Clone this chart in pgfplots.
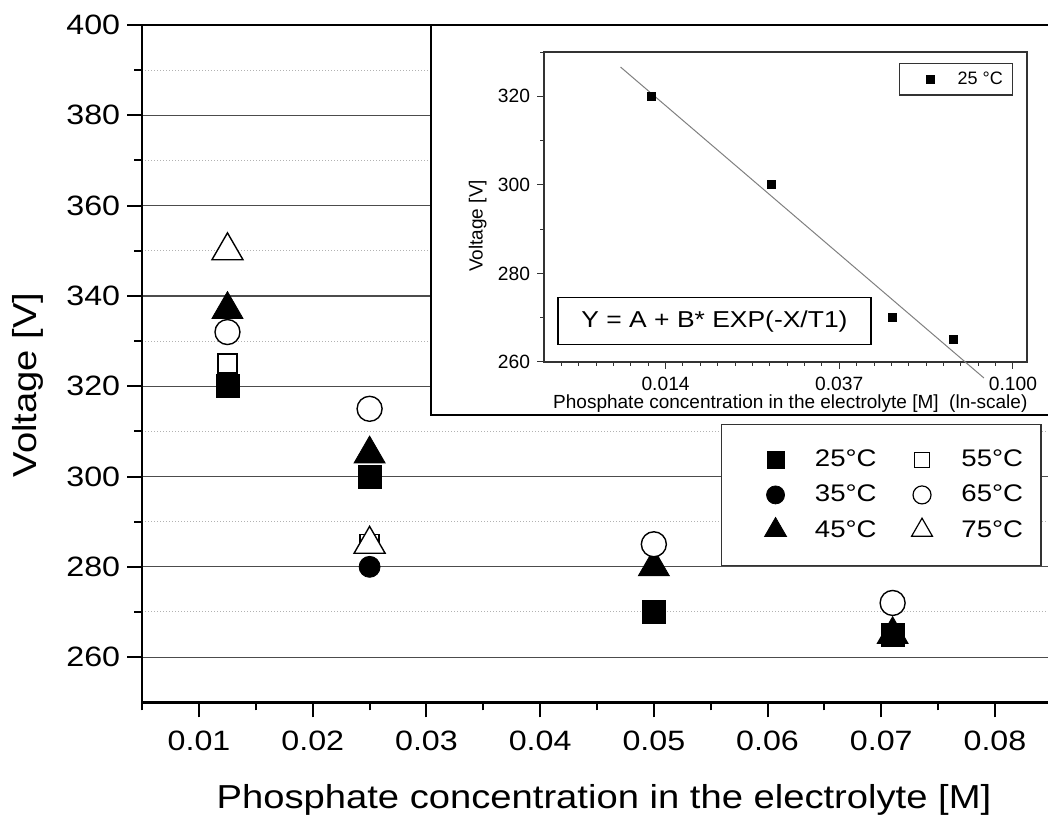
\documentclass[border=0pt]{standalone}
\usepackage{fontspec}
\setmainfont{Liberation Sans}[FakeStretch=1.15]
\newfontfamily\insetfont{Liberation Sans}
\usepackage{pgfplots}
\pgfplotsset{compat=1.18}
\begin{document}
\begin{tikzpicture}
\path[use as bounding box] (0pt,0pt) rectangle (524pt,409.5pt);
% ---------------- main axis ----------------
\begin{axis}[
  at={(71.1pt,58.35pt)}, anchor=south west,
  scale only axis, width=454.8pt, height=338.65pt,
  xmin=0.005, xmax=0.085, ymin=250, ymax=400,
  scaled x ticks=false, scaled y ticks=false,
  axis line style={black, line width=1.2pt},
  tick pos=left, tick align=outside,
  major tick length=7.5pt, minor tick length=4pt,
  every tick/.style={black, line width=1pt},
  xtick={0.01,0.02,0.03,0.04,0.05,0.06,0.07,0.08},
  xticklabels={0.01,0.02,0.03,0.04,0.05,0.06,0.07,0.08},
  minor xtick={0.005,0.015,0.025,0.035,0.045,0.055,0.065,0.075,0.085},
  ytick={260,280,300,320,340,360,380,400},
  yticklabels={260,280,300,320,340,360,380,400},
  minor ytick={270,290,310,330,350,370,390},
  ymajorgrids, yminorgrids,
  major grid style={line width=0.6pt, black!70},
  minor grid style={line width=0.5pt, black!30, densely dotted},
  /pgf/number format/assume math mode=true,
  tick label style={font=\fontsize{14}{16}\selectfont},
  xticklabel style={yshift=-3.5pt},
  xlabel={Phosphate concentration in the electrolyte [M]},
  ylabel={Voltage [V]},
  label style={font=\fontsize{16.6}{20}\selectfont},
  xlabel style={at={(axis description cs:0.5077,-0.1448)}, anchor=center},
  ylabel style={at={(axis description cs:-0.1251,0.4685)}, anchor=center},
  legend columns=2,
  legend image code/.code={\path[draw=none,fill=none] (-20pt,0pt) -- (8.5pt,0pt); \draw[#1,/tikz/only marks] plot coordinates {(0pt,0pt)};},
  legend style={at={(axis description cs:0.989,0.201)}, anchor=south east,
    draw=black!80, line width=0.7pt, fill=white,
    font=\fontsize{12}{14}\selectfont,
    inner xsep=7pt, inner ysep=10.7pt, row sep=3.75pt,
    /tikz/every odd column/.append style={column sep=9.2pt},
    /tikz/every even column/.append style={column sep=0.7pt}},
]
% 25 C
\addplot[only marks, black, mark=square*, mark size=5.75pt, forget plot]
  coordinates {(0.0125,320) (0.025,300) (0.05,270) (0.071,265)};
% 35 C
\addplot[only marks, black, mark=*, mark size=5.25pt, forget plot]
  coordinates {(0.025,280)};
% 45 C
\addplot[only marks, black, mark=triangle*, mark size=8.95pt, forget plot]
  coordinates {(0.0125,337) (0.025,305) (0.05,280) (0.071,265)};
% 55 C
\addplot[only marks, black, mark=square*, mark size=4.75pt, mark options={fill=white, line width=0.7pt}, forget plot]
  coordinates {(0.0125,325) (0.025,285)};
% 65 C
\addplot[only marks, black, mark=*, mark size=6.25pt, mark options={fill=white, line width=0.7pt}, forget plot]
  coordinates {(0.0125,332) (0.025,315) (0.05,285) (0.071,272)};
% 75 C
\addplot[only marks, black, mark=triangle*, mark size=8.95pt, mark options={fill=white, line width=0.7pt}, forget plot]
  coordinates {(0.0125,350) (0.025,285)};
% legend
\addlegendimage{only marks, black, mark=square*, mark size=4.25pt, mark options={line width=0.4pt}}
\addlegendentry{25°C}
\addlegendimage{only marks, black, mark=square*, mark size=3.75pt, mark options={fill=white, line width=0.6pt}}
\addlegendentry{55°C}
\addlegendimage{only marks, black, mark=*, mark size=4.5pt, mark options={line width=0.4pt}}
\addlegendentry{35°C}
\addlegendimage{only marks, black, mark=*, mark size=4.5pt, mark options={fill=white, line width=0.6pt}}
\addlegendentry{65°C}
\addlegendimage{only marks, black, mark=triangle*, mark size=6.35pt, mark options={line width=0.4pt}}
\addlegendentry{45°C}
\addlegendimage{only marks, black, mark=triangle*, mark size=6pt, mark options={fill=white, line width=0.6pt}}
\addlegendentry{75°C}
\end{axis}
% ---------------- inset frame ----------------
\draw[black, line width=1pt, fill=white] (215.5pt,202pt) rectangle (545pt,397pt);
% ---------------- inset axis ----------------
\begin{axis}[
  at={(272pt,228.5pt)}, anchor=south west,
  scale only axis, width=241.5pt, height=155pt,
  xmode=log, xmin=0.006738, xmax=0.1087, ymin=260, ymax=330,
  axis line style={black!80, line width=0.6pt},
  tick pos=left, tick align=outside,
  major tick length=3.5pt, minor tick length=2pt,
  every tick/.style={black!80, line width=0.5pt},
  xtick={0.013569,0.036883,0.100259},
  xticklabels={0.014,0.037,0.100},
  minor xtick={0.007447,0.008230,0.009095,0.010052,0.011109,0.012277,
    0.014996,0.016573,0.018316,0.020242,0.022371,0.024724,0.027324,0.030197,0.033373,
    0.040762,0.045049,0.049787,0.055023,0.060810,0.067206,0.074274,0.082085,0.090718},
  ytick={260,280,300,320}, yticklabels={260,280,300,320},
  minor ytick={270,290,310,330},
  /pgf/number format/assume math mode=true,
  tick label style={font=\insetfont\fontsize{9.6}{12}\selectfont},
  xticklabel style={yshift=-0.5pt},
  xlabel={Phosphate concentration in the electrolyte [M]\ \ (ln-scale)},
  ylabel={Voltage [V]},
  label style={font=\insetfont\fontsize{9.5}{11}\selectfont},
  xlabel style={at={(axis description cs:0.51,-0.134)}, anchor=center},
  ylabel style={at={(axis description cs:-0.137,0.439)}, anchor=center},
  clip=false,
  legend image code/.code={\path[draw=none,fill=none] (-13pt,0pt) -- (8.5pt,0pt); \draw[#1,/tikz/only marks] plot coordinates {(0pt,0pt)};},
  legend style={at={(axis description cs:0.971,0.965)}, anchor=north east,
    draw=black!80, line width=0.6pt, fill=white,
    font=\insetfont\fontsize{9}{11}\selectfont,
    inner xsep=2.75pt, inner ysep=2pt,
    /tikz/every odd column/.append style={column sep=3pt}},
]
\addplot[black!50, line width=0.5pt, forget plot]
  coordinates {(0.01047,326.6) (0.0848,256.4)};
\addplot[only marks, black, mark=square*, mark size=2pt]
  coordinates {(0.0125,320) (0.025,300) (0.05,270) (0.071,265)};
\addlegendentry{25 °C}
\node[draw=black, line width=0.6pt, fill=white, minimum width=156.5pt, minimum height=23.5pt,
  inner sep=0pt, font=\fontsize{11.5}{13}\selectfont]
  at (axis description cs:0.353,0.131) {Y = A + B* EXP(-X/T1)};
\end{axis}
\end{tikzpicture}
\end{document}
